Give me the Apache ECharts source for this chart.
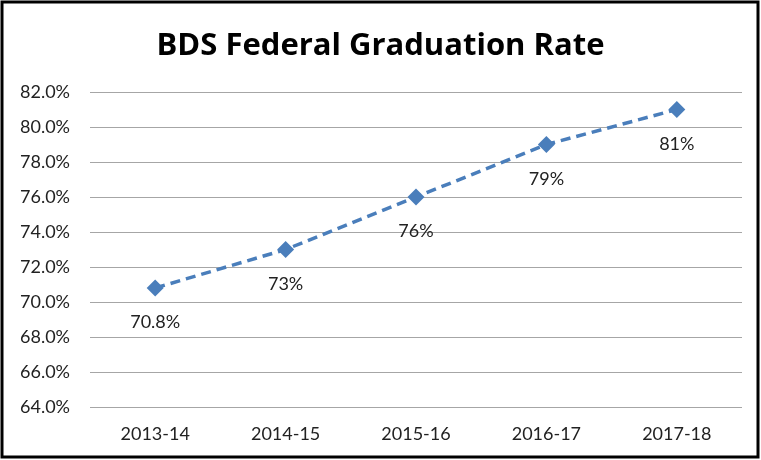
<!DOCTYPE html>
<html>
<head>
<meta charset="utf-8">
<script src="https://cdn.jsdelivr.net/npm/echarts@6/dist/echarts.min.js"></script>
<style>
  html, body { margin: 0; padding: 0; background: #fff; }
  #chart { width: 761px; height: 460px; }
</style>
</head>
<body>
<div id="chart"></div>
<script>
// chart data
var years = ['2013-14', '2014-15', '2015-16', '2016-17', '2017-18']
var rates = [70.8, 73, 76, 79, 81]
var rateLabels = ['70.8%', '73%', '76%', '79%', '81%']

var myChart = echarts.init(document.getElementById('chart'))

myChart.setOption({
  backgroundColor: '#fff',
  textStyle: { fontFamily: 'Lato' },
  title: {
    text: 'BDS Federal Graduation Rate',
    left: 'center',
    top: 26,
    textStyle: {
      fontFamily: 'Open Sans',
      fontSize: 31,
      fontWeight: 'bold',
      color: '#000'
    }
  },
  graphic: [{
    type: 'rect',
    shape: { x: 2, y: 2, width: 756, height: 455 },
    style: { fill: 'none', stroke: '#000', lineWidth: 3 },
    silent: true
  }],
  grid: {
    left: 90,
    right: 19,
    top: 92,
    bottom: 53
  },
  xAxis: {
    type: 'category',
    data: years,
    boundaryGap: true,
    axisLine: { show: false },
    axisTick: { show: false },
    axisLabel: { color: '#222', fontSize: 18, margin: 18 }
  },
  yAxis: {
    type: 'value',
    min: 64,
    max: 82,
    interval: 2,
    axisLine: { show: false },
    axisTick: { show: false },
    axisLabel: {
      color: '#222',
      fontSize: 18,
      margin: 20,
      formatter: function(v) { return v.toFixed(1) + '%' }
    },
    splitLine: { lineStyle: { color: '#a6a6a6', width: 1 } }
  },
  series: [
    {
      name: 'Graduation Rate',
      type: 'line',
      data: rates,
      symbol: 'diamond',
      symbolSize: 17,
      itemStyle: { color: '#4a7ebb' },
      lineStyle: { color: '#4a7ebb', width: 3.5, type: [10, 6] },
      label: {
        show: true,
        position: 'bottom',
        distance: 17,
        fontSize: 18,
        color: '#222',
        formatter: function(p) { return rateLabels[p.dataIndex] }
      }
    }
  ]
})
</script>
</body>
</html>
